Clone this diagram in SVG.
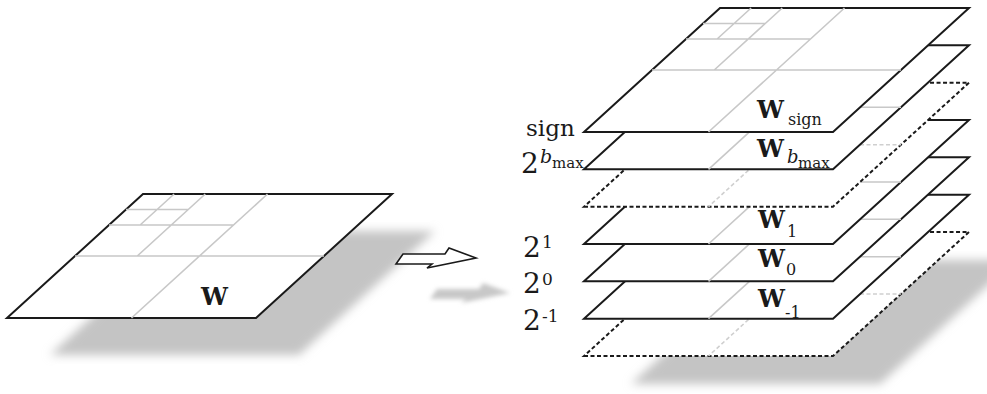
<svg xmlns="http://www.w3.org/2000/svg" xmlns:xlink="http://www.w3.org/1999/xlink" width="987" height="394" viewBox="0 0 987 394">
<style>
.plane{fill:#fff;stroke:#1a1a1a;stroke-width:2;stroke-linejoin:miter}
.dashed{stroke-dasharray:4 2.5}
.grid{fill:none;stroke:#c8c8c8;stroke-width:1.6}
.gridd{fill:none;stroke:#cfcfcf;stroke-width:1.6;stroke-dasharray:4 2.5}
.shadow{fill:#c4c4c4;filter:url(#blur)}
.lbl{font-family:"DejaVu Serif","Liberation Serif",serif;fill:#1a1a1a}
.w{font-family:"DejaVu Serif","Liberation Serif",serif;font-weight:bold;font-size:24px;fill:#1a1a1a}
.arrow{fill:#fff;stroke:#1a1a1a;stroke-width:1.6;stroke-linejoin:miter}
</style>
<defs>
<filter id="blur" x="-20%" y="-30%" width="140%" height="160%"><feGaussianBlur stdDeviation="5"/></filter>
<filter id="blur2" x="-20%" y="-50%" width="140%" height="200%"><feGaussianBlur stdDeviation="2"/></filter>
<path id="outline" d="M0 0 L249 0 L385 -124 L136 -124 Z"/>
<g id="gridlines">
<path d="M260.5 -124 L124.5 0 M68 -62 L317 -62 M102 -93 L226.5 -93 M198.25 -124 L130.25 -62 M119 -108.5 L181.25 -108.5 M167.1 -124 L133.1 -93"/>
</g>
</defs>

<g id="shadows">
<path class="shadow" d="M50 355 L299 355 L435 231 L186 231 Z"/>
<path class="shadow" d="M631 384 L880 384 L1016 260 L767 260 Z"/>
<path d="M430 299 L437 289 L479 289 L483 283 L510 293 L461 303 L466 299 Z" fill="#c8c8c8" filter="url(#blur2)"/>
</g>

<g id="node-w" transform="translate(7 318)">
<use xlink:href="#outline" class="plane"/>
<use xlink:href="#gridlines" class="grid"/>
<text class="w" x="194" y="-13">W</text>
</g>

<g id="connectors">
<path class="arrow" d="M396 264 L403 254 L445 254 L449 248 L476 258 L427 268 L432 264 Z"/>
</g>

<g id="node-dashed-bottom" transform="translate(584 356)">
<use xlink:href="#outline" class="plane dashed"/>
<use xlink:href="#gridlines" class="gridd"/>
</g>

<g id="node-w-minus1" transform="translate(584 318.7)">
<use xlink:href="#outline" class="plane"/>
<use xlink:href="#gridlines" class="grid"/>
<text class="w" x="174" y="-11.7">W</text>
<text class="lbl" font-size="16" x="201" y="-0.7">-1</text>
<text class="lbl" x="-61" y="11.3"><tspan font-size="28">2</tspan><tspan font-size="17" x="-42" y="3.3">-1</tspan></text>
</g>

<g id="node-w0" transform="translate(584 281.3)">
<use xlink:href="#outline" class="plane"/>
<use xlink:href="#gridlines" class="grid"/>
<text class="w" x="174" y="-14.3">W</text>
<text class="lbl" font-size="16" x="202" y="-6.3">0</text>
<text class="lbl" x="-61" y="11.7"><tspan font-size="28">2</tspan><tspan font-size="17" x="-42" y="3.7">0</tspan></text>
</g>

<g id="node-w1" transform="translate(584 244)">
<use xlink:href="#outline" class="plane"/>
<use xlink:href="#gridlines" class="grid"/>
<text class="w" x="174" y="-16">W</text>
<text class="lbl" font-size="16" x="203" y="-7">1</text>
<text class="lbl" x="-61" y="13"><tspan font-size="28">2</tspan><tspan font-size="17" x="-42" y="4">1</tspan></text>
</g>

<g id="node-dashed-mid" transform="translate(584 206.7)">
<use xlink:href="#outline" class="plane dashed"/>
<use xlink:href="#gridlines" class="gridd"/>
</g>

<g id="node-w-bmax" transform="translate(584 169.3)">
<use xlink:href="#outline" class="plane"/>
<use xlink:href="#gridlines" class="grid"/>
<text class="w" x="173" y="-12.3">W</text>
<text class="lbl" font-size="18" font-style="italic" x="203" y="-6.3">b</text>
<text class="lbl" font-size="15" x="214" y="-1.3">max</text>
<text class="lbl" x="-63" y="3.7"><tspan font-size="28">2</tspan><tspan font-size="19" font-style="italic" x="-44" y="-6.3">b</tspan><tspan font-size="15" x="-32" y="-1.3">max</tspan></text>
</g>

<g id="node-w-sign" transform="translate(584 132)">
<use xlink:href="#outline" class="plane"/>
<use xlink:href="#gridlines" class="grid"/>
<text class="w" x="173" y="-14">W</text>
<text class="lbl" font-size="16" x="204" y="-7">sign</text>
<text class="lbl" font-size="23" x="-58" y="4">sign</text>
</g>
</svg>
